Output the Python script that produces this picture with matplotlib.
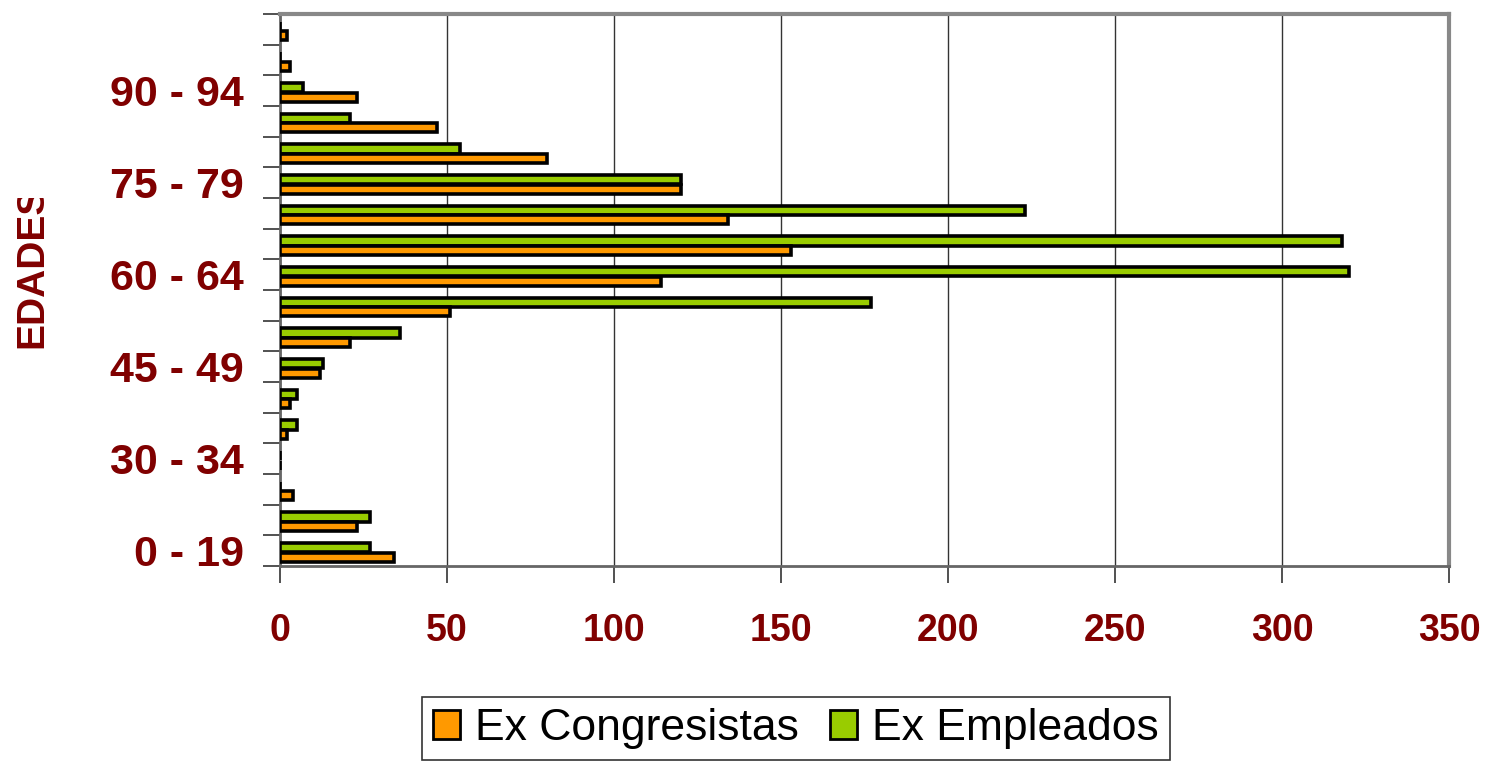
import numpy as np
import matplotlib.pyplot as plt
from matplotlib.transforms import Bbox

# age groups, bottom to top
grupos = ['0 - 19', '20 - 24', '25 - 29', '30 - 34', '35 - 39', '40 - 44',
          '45 - 49', '50 - 54', '55 - 59', '60 - 64', '65 - 69', '70 - 74',
          '75 - 79', '80 - 84', '85 - 89', '90 - 94', '95 - 99', '100 +']
congresistas = [34, 23, 4, 0, 2, 3, 12, 21, 51, 114, 153, 134, 120, 80, 47, 23, 3, 2]
empleados = [27, 27, 0, 0, 5, 5, 13, 36, 177, 320, 318, 223, 120, 54, 21, 7, 0, 0]
etiquetas = ['0 - 19', '30 - 34', '45 - 49', '60 - 64', '75 - 79', '90 - 94']

rojo = '#800000'
plt.rcParams['font.family'] = ['Liberation Sans', 'DejaVu Sans']

fig = plt.figure(figsize=(14.92, 7.61), dpi=100)
ax = fig.add_axes([280 / 1492, 1 - 566 / 761, 1169 / 1492, 552 / 761])

y = np.arange(len(grupos))
h = 0.3
ax.barh(y + 0.1, empleados, h, color='#99CC00', edgecolor='black', lw=2.6,
        label='Ex Empleados', zorder=3)
ax.barh(y - 0.21, congresistas, h, color='#FF9900', edgecolor='black', lw=2.6,
        label='Ex Congresistas', zorder=3)

ax.set_xlim(0, 350)
ax.set_ylim(-0.5, len(grupos) - 0.5)
ax.set_xticks(np.arange(0, 351, 50))
ax.xaxis.grid(True, color='#333333', lw=1, zorder=0)

# labels only every third group, tick marks at group boundaries
ax.set_yticks([grupos.index(e) for e in etiquetas])
ax.set_yticklabels(etiquetas)
ax.set_yticks(np.arange(-0.5, len(grupos), 1), minor=True)
ax.tick_params(axis='y', which='major', length=0, pad=26, labelsize=31,
               labelcolor=rojo)
ax.tick_params(axis='y', which='minor', length=12, width=1.2, color='#333333')
ax.tick_params(axis='x', length=12, width=1.2, color='#333333', pad=22,
               labelsize=27, labelcolor=rojo)
for lab in ax.get_xticklabels() + ax.get_yticklabels():
    lab.set_fontweight('bold')

for s in ['top', 'right']:
    ax.spines[s].set_color('#888888')
    ax.spines[s].set_linewidth(3)
for s in ['left', 'bottom']:
    ax.spines[s].set_color('#666666')
    ax.spines[s].set_linewidth(2)

# axis title, cut off at the top like in the original
t = fig.text(32 / 1492, 1 - 267 / 761, 'EDADES', rotation=90, ha='center',
             va='center', fontsize=28, fontweight='bold', color=rojo)
t.set_clip_box(Bbox.from_extents(0, 0, 1492, 761 - 198))
t.set_clip_on(True)

handles, labels = ax.get_legend_handles_labels()
leg = fig.legend(handles[::-1], labels[::-1], loc='upper center',
                 bbox_to_anchor=(796 / 1492, 1 - 697 / 761),
                 ncol=2, fontsize=32, frameon=True, fancybox=False,
                 handlelength=0.6, handleheight=0.6, handletextpad=0.35,
                 columnspacing=0.7, borderpad=0.25, borderaxespad=0)
leg.get_frame().set_edgecolor('black')
leg.get_frame().set_linewidth(1.2)
for p in leg.get_patches():
    p.set_linewidth(2)

fig.savefig('out.png', dpi=100)
